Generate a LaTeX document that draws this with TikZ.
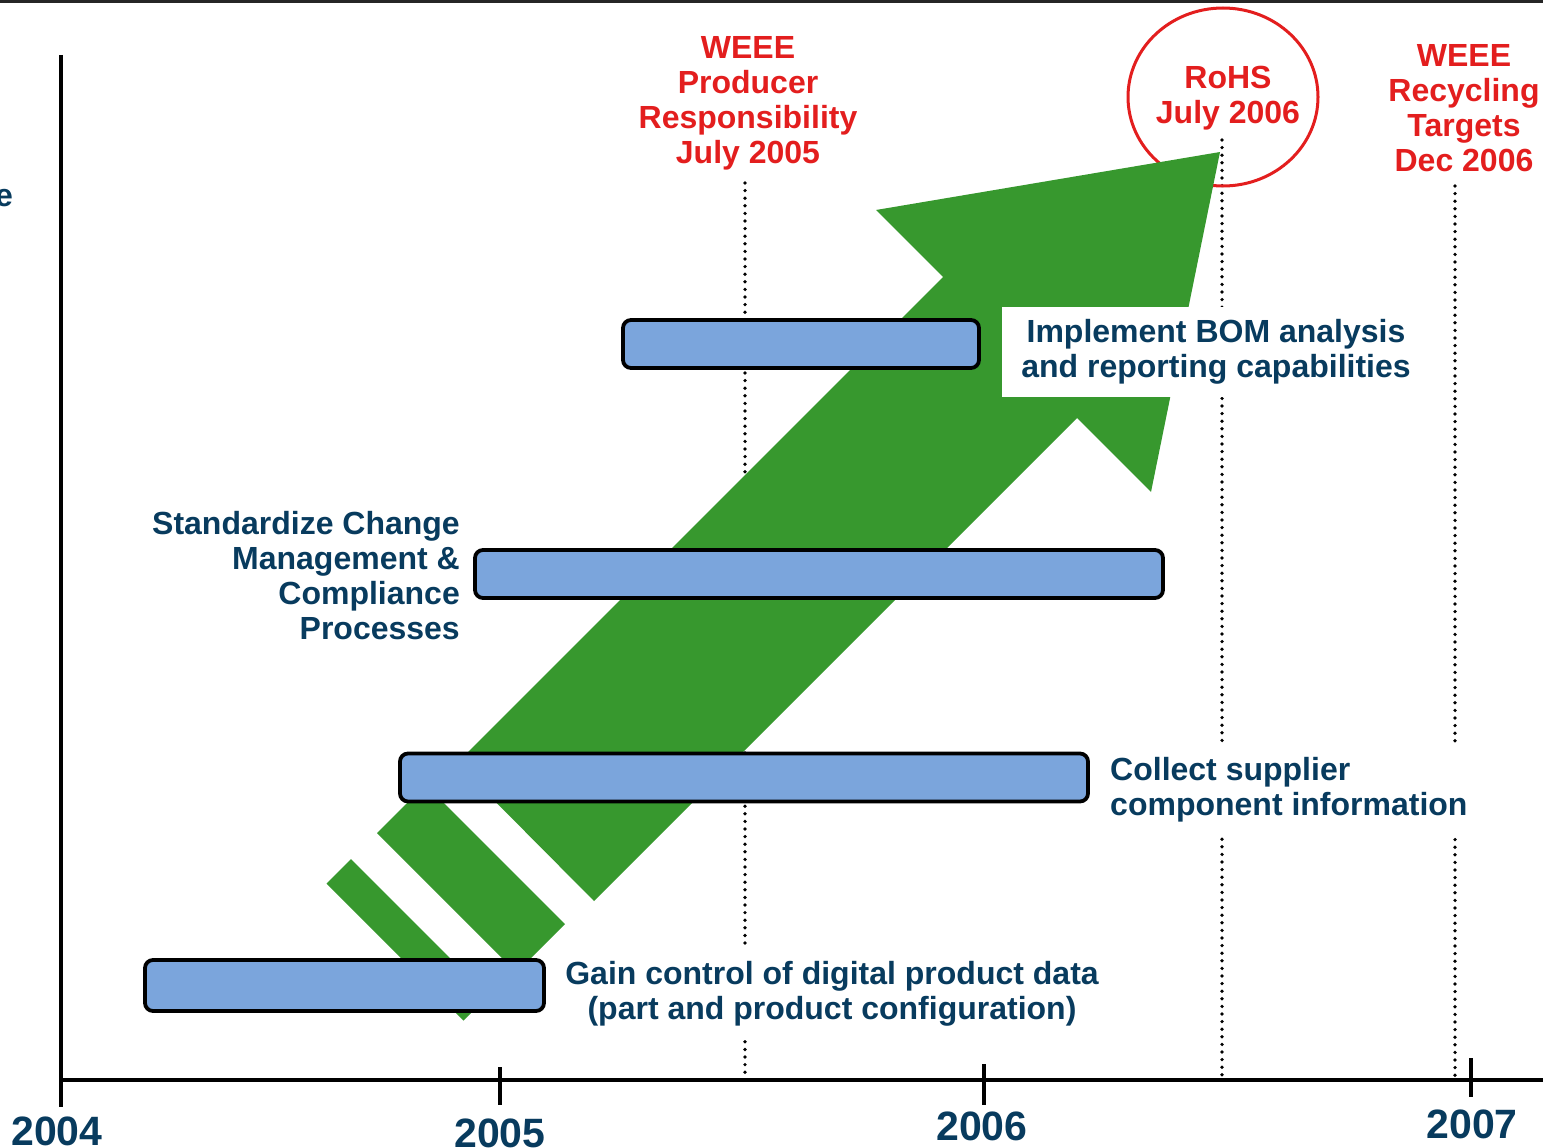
\documentclass[tikz,border=0pt]{standalone}
\usepackage{fontspec}
\setmainfont{Liberation Sans}
\usetikzlibrary{shapes.geometric}
\definecolor{arrowgreen}{RGB}{55,152,46}
\definecolor{barblue}{RGB}{123,165,220}
\definecolor{navy}{RGB}{8,59,94}
\definecolor{evred}{RGB}{227,30,30}
\begin{document}
\begin{tikzpicture}[x=1pt,y=-1pt,
  bar/.style={draw=black,line width=3.8pt,rounded corners=8pt,fill=barblue,inner sep=0pt},
  navytext/.style={text=navy,font=\fontsize{32}{35}\selectfont\bfseries,inner sep=0pt},
  redtext/.style={text=evred,font=\fontsize{32}{35}\selectfont\bfseries,align=center,inner sep=0pt},
  yeartext/.style={text=navy,font=\fontsize{41}{45}\selectfont\bfseries,inner sep=0pt,anchor=base},
  datemark/.style={line width=3.7pt,line cap=round,dash pattern=on 0pt off 7.6pt},
  axisline/.style={line width=3.5pt,black},
  arrowfill/.style={fill=arrowgreen,draw=none}]
\useasboundingbox (0,0) rectangle (1543,1148);
% top border
\draw[line width=3pt,black!85] (0,2) -- (1543,2);
% axes
\coordinate (ytop) at (61,55);
\coordinate (ybot) at (61,1107);
\coordinate (xl) at (61,1080);
\coordinate (xr) at (1543,1080);
\draw[axisline] (ytop) -- (ybot);
\draw[axisline] (xl) -- (xr);
\coordinate (t5a) at (500,1067); \coordinate (t5b) at (500,1105);
\coordinate (t6a) at (984,1064); \coordinate (t6b) at (984,1105);
\coordinate (t7a) at (1471,1058); \coordinate (t7b) at (1471,1097);
\draw[axisline] (t5a) -- (t5b);
\draw[axisline] (t6a) -- (t6b);
\draw[axisline] (t7a) -- (t7b);
% year labels
\node[yeartext] (y2004) at (57,1145) {2004};
\node[yeartext] (y2005) at (500,1147) {2005};
\node[yeartext] (y2006) at (982,1140) {2006};
\node[yeartext] (y2007) at (1472,1138) {2007};
% cut text at left
\node[navytext,anchor=east] (cut) at (13,198) {e};
% dotted date lines
\coordinate (d1a) at (745,183);  \coordinate (d1b) at (745,1078);
\coordinate (d2a) at (1222,140); \coordinate (d2b) at (1222,1078);
\coordinate (d3a) at (1455,186); \coordinate (d3b) at (1455,1076);
\draw[datemark] (d1a) -- (d1b);
\draw[datemark] (d2a) -- (d2b);
\draw[datemark] (d3a) -- (d3b);
% red circle
\node[draw=evred,line width=3pt,ellipse,minimum width=190pt,minimum height=178pt,inner sep=0pt] (circ) at (1223,97) {};
% green arrow
\path[arrowfill] (1220,152) -- (1151,492) -- (1077,418) -- (594,901) -- (457,763)
  -- (943,277) -- (876,210) -- cycle;
\path[arrowfill] (377,833) -- (425.5,784.5) -- (565,924) -- (516.5,972.5) -- cycle;
\path[arrowfill] (326.5,883.5) -- (351,859) -- (488,996) -- (463.5,1020.5) -- cycle;
% bars
\node[bar,minimum width=356pt,minimum height=48pt] (bom) at (801,344) {};
\node[bar,minimum width=688pt,minimum height=48pt] (std) at (819,574) {};
\node[bar,minimum width=688pt,minimum height=48pt] (col) at (744,777.5) {};
\node[bar,minimum width=399pt,minimum height=51pt] (gain) at (344.5,985.5) {};
% labels
\node[navytext,fill=white,align=center,minimum width=428pt,minimum height=90pt] (bomlbl) at (1216,352)
  {Implement BOM analysis\\and reporting capabilities};
\node[navytext,align=right,anchor=east] (stdlbl) at (460,576)
  {Standardize Change\\Management \&\\Compliance\\Processes};
\node[navytext,fill=white,align=left,anchor=west,inner xsep=10pt,minimum height=92pt] (collbl) at (1100,790)
  {Collect supplier\\component information};
\node[navytext,fill=white,align=center,inner xsep=8pt,minimum height=92pt] (gainlbl) at (832,994)
  {Gain control of digital product data\\(part and product configuration)};
% red regulation labels
\node[redtext] (weee1) at (748,103.5) {WEEE\\Producer\\Responsibility\\July 2005};
\node[redtext] (rohs) at (1228,98.5) {RoHS\\July 2006};
\node[redtext] (weee2) at (1464,108) {WEEE\\Recycling\\Targets\\Dec 2006};
\end{tikzpicture}
\end{document}
